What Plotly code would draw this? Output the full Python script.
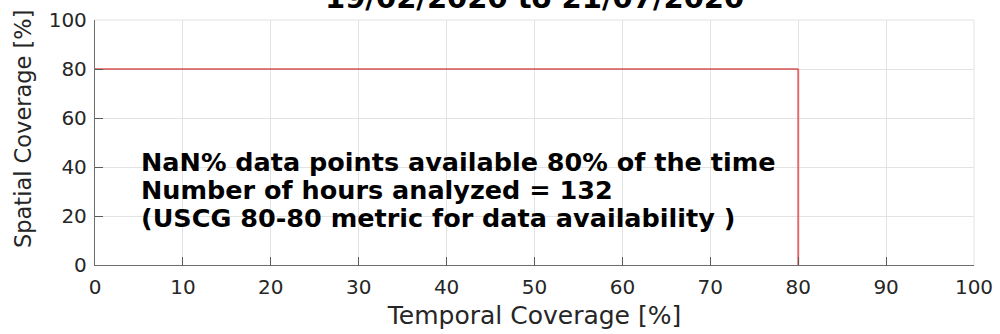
import plotly.graph_objects as go

# Coverage metric summary (USCG 80-80)
temporal_pct = [0, 80, 80]
spatial_pct = [80, 80, 0]
x_ticks = [0, 10, 20, 30, 40, 50, 60, 70, 80, 90, 100]
y_ticks = [0, 20, 40, 60, 80, 100]
title_text = "19/02/2020 to 21/07/2020"
info_lines = [
    "NaN% data points available 80% of the time",
    "Number of hours analyzed = 132",
    "(USCG 80-80 metric for data availability )",
]
info_x = 5
info_y = [42.0, 30.6, 19.2]

FONT = "DejaVu Sans"
TXT = "#262626"

MARGIN_L, MARGIN_R, MARGIN_T, MARGIN_B = 95, 26, 20, 69
W, H = 1000, 334
plot_w = W - MARGIN_L - MARGIN_R
plot_h = H - MARGIN_T - MARGIN_B

fig = go.Figure()

# horizontal segment at the spatial threshold
fig.add_trace(go.Scatter(
    x=temporal_pct[:2], y=spatial_pct[:2], mode="lines",
    line=dict(color="#c80000", width=1.1), showlegend=False, hoverinfo="skip",
))
# vertical drop at the temporal threshold
fig.add_trace(go.Scatter(
    x=temporal_pct[1:], y=spatial_pct[1:], mode="lines",
    line=dict(color="rgba(230,20,20,0.6)", width=2), showlegend=False, hoverinfo="skip",
))

for txt, yy in zip(info_lines, info_y):
    fig.add_annotation(
        x=info_x, y=yy, xref="x", yref="y", text="<b>" + txt + "</b>",
        showarrow=False, xanchor="left", yanchor="middle",
        font=dict(family=FONT, size=25.5, color="black"),
    )

fig.add_annotation(
    x=0.5, y=1.012, xref="paper", yref="paper", text="<b>" + title_text + "</b>",
    showarrow=False, xanchor="center", yanchor="bottom",
    font=dict(family=FONT, size=29, color="black"),
)

# y-axis title placed as rotated text (pixel centre 23, 129)
fig.add_annotation(
    x=(23 - MARGIN_L) / plot_w, y=(H - MARGIN_B - 129) / plot_h,
    xref="paper", yref="paper", text="Spatial Coverage [%]",
    showarrow=False, textangle=-90, xanchor="center", yanchor="middle",
    font=dict(family=FONT, size=22.5, color=TXT),
)

axis_common = dict(
    showgrid=True, gridcolor="#e3e3e3", gridwidth=1,
    showline=True, linecolor="#6e6e6e", linewidth=1.3,
    ticks="inside", ticklen=8, tickcolor="#5a5a5a", tickwidth=1,
    zeroline=False, mirror=False, automargin=False,
)

fig.update_xaxes(
    range=[0, 100], tickvals=x_ticks, ticktext=[str(v) for v in x_ticks],
    tickfont=dict(family=FONT, size=20, color=TXT), ticklabelstandoff=4,
    title=dict(text="Temporal Coverage [%]", font=dict(family=FONT, size=25, color=TXT), standoff=8),
    **axis_common,
)
fig.update_yaxes(
    range=[0, 100], tickvals=y_ticks, ticktext=[str(v) for v in y_ticks],
    tickfont=dict(family=FONT, size=20, color=TXT), ticklabelstandoff=3,
    **axis_common,
)

# light frame on the top and right edges (grid-coloured)
fig.add_shape(type="line", xref="paper", yref="paper", x0=0, x1=1, y0=1, y1=1,
              line=dict(color="#e3e3e3", width=1), layer="below")
fig.add_shape(type="line", xref="paper", yref="paper", x0=1, x1=1, y0=0, y1=1,
              line=dict(color="#e3e3e3", width=1), layer="below")

fig.update_layout(
    width=W, height=H,
    margin=dict(l=MARGIN_L, r=MARGIN_R, t=MARGIN_T, b=MARGIN_B),
    plot_bgcolor="white", paper_bgcolor="white",
    showlegend=False,
)

fig.write_html("out.html", config={"displayModeBar": False})
